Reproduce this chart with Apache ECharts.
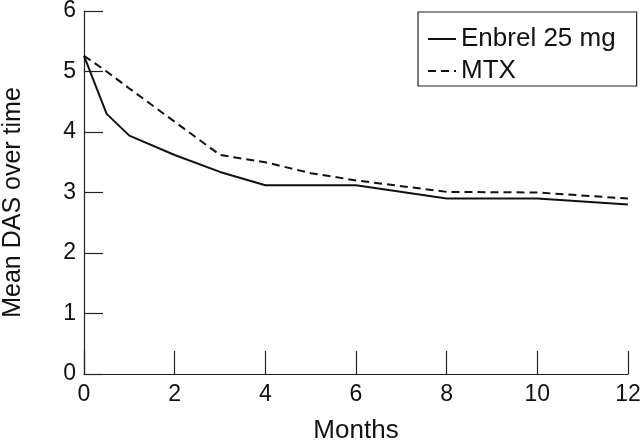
<!DOCTYPE html>
<html>
<head>
<meta charset="utf-8">
<script src="https://cdn.jsdelivr.net/npm/echarts@6/dist/echarts.min.js"></script>
<style>html,body{margin:0;padding:0;background:#fff}#c{width:640px;height:440px}</style>
</head>
<body>
<div id="c"></div>
<script>
var enbrelMonths = [0, 0.5, 1, 2, 3, 4, 6, 8, 10, 12];
var enbrel = [5.26, 4.30, 3.94, 3.62, 3.34, 3.12, 3.12, 2.90, 2.90, 2.80];
var mtxMonths = [0, 0.5, 1, 2, 3, 4, 5, 6, 8, 10, 12];
var mtx = [5.26, 5.00, 4.72, 4.17, 3.62, 3.50, 3.32, 3.20, 3.01, 3.00, 2.90];
var xTicks = [0, 2, 4, 6, 8, 10, 12];
var yTicks = [0, 1, 2, 3, 4, 5, 6];

function pairs(xs, ys) { return xs.map(function (x, i) { return [x, ys[i]]; }); }

var font = 'Liberation Sans, Arial, Helvetica, sans-serif';
var chart = echarts.init(document.getElementById('c'), null, {renderer: 'canvas'});
chart.setOption({
  animation: false,
  backgroundColor: '#fff',
  grid: {left: 84, right: 12, top: 11, bottom: 66, containLabel: false, outerBoundsMode: 'none'},
  legend: {
    orient: 'vertical',
    left: 418,
    top: 12,
    padding: [14, 21, 2, 9],
    itemWidth: 28,
    itemHeight: 20,
    itemGap: 6,
    borderColor: '#222',
    borderWidth: 1.2,
    borderRadius: 0,
    itemStyle: {opacity: 0},
    textStyle: {fontFamily: font, fontSize: 26, color: '#111', lineHeight: 26},
    data: ['Enbrel 25 mg', 'MTX']
  },
  xAxis: {
    type: 'value', min: xTicks[0], max: xTicks[xTicks.length - 1], interval: 2,
    name: 'Months', nameLocation: 'middle', nameGap: 44,
    nameTextStyle: {fontFamily: font, fontSize: 26, color: '#111'},
    axisLine: {lineStyle: {color: '#222', width: 1.2}},
    axisTick: {inside: true, length: 23, lineStyle: {color: '#222', width: 1.2}},
    axisLabel: {fontFamily: font, fontSize: 23, color: '#111', margin: 9},
    splitLine: {show: false}
  },
  yAxis: {
    type: 'value', min: yTicks[0], max: yTicks[yTicks.length - 1], interval: 1,
    name: 'Mean DAS over time', nameLocation: 'middle', nameGap: 58, nameRotate: 90,
    nameTextStyle: {fontFamily: font, fontSize: 25, color: '#111', padding: [0, 20, 0, 0]},
    axisLine: {show: true, lineStyle: {color: '#222', width: 1.2}},
    axisTick: {show: true, inside: true, length: 19, lineStyle: {color: '#222', width: 1.2}},
    axisLabel: {fontFamily: font, fontSize: 23, color: '#111', margin: 8},
    splitLine: {show: false}
  },
  series: [
    {
      name: 'Enbrel 25 mg', type: 'line', symbol: 'none',
      data: pairs(enbrelMonths, enbrel),
      lineStyle: {color: '#111', width: 2, type: 'solid'},
      itemStyle: {color: '#111'}
    },
    {
      name: 'MTX', type: 'line', symbol: 'none',
      data: pairs(mtxMonths, mtx),
      lineStyle: {color: '#111', width: 2, type: [8, 5]},
      itemStyle: {color: '#111'}
    }
  ]
});
</script>
</body>
</html>
